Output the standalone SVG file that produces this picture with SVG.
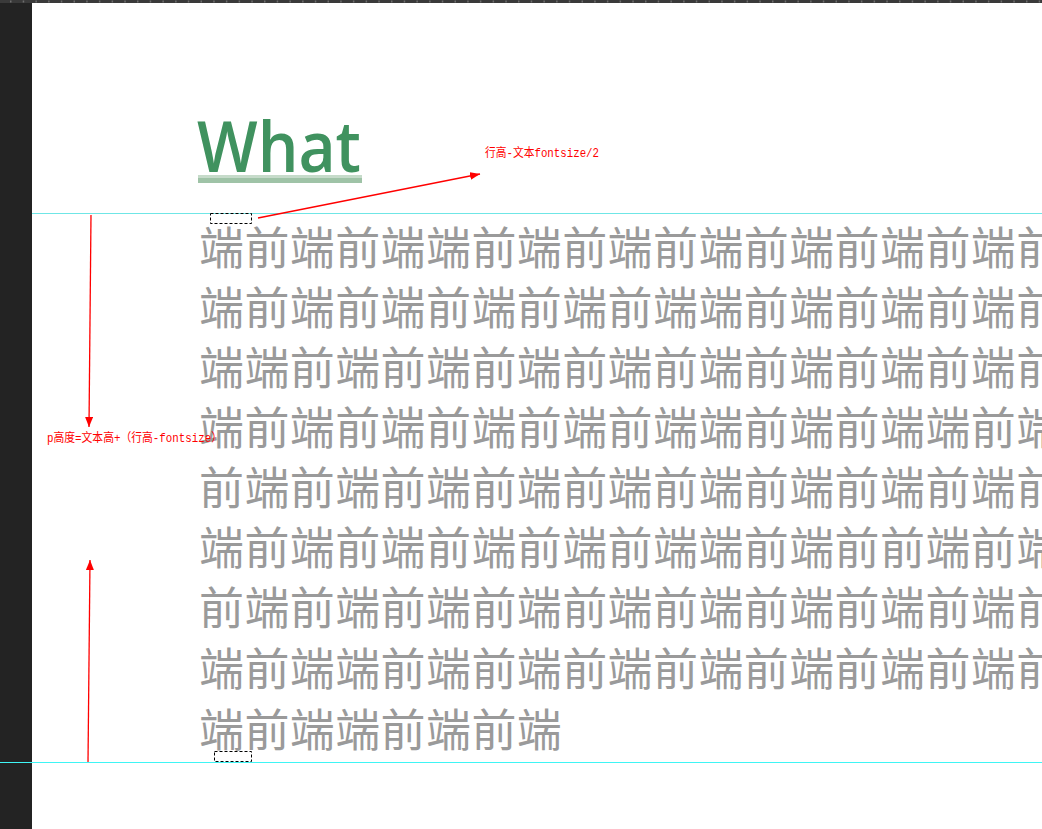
<svg xmlns="http://www.w3.org/2000/svg" width="1042" height="829" viewBox="0 0 1042 829">
<style>
.cjk{font-family:"Noto Sans CJK SC","Noto Sans CJK JP",sans-serif;font-size:45px;fill:#9a9a9a;letter-spacing:0.4px}
.note{font-family:"Liberation Mono","Noto Sans CJK SC",monospace;font-size:12px;fill:#ff0000}
.red{stroke:#ff0000;stroke-width:1.3;fill:none}
.dash{fill:none;stroke:#000;stroke-width:1;stroke-dasharray:3 2}
</style>
<defs>
<marker id="ah" viewBox="0 0 10 8" refX="10" refY="4" markerWidth="10" markerHeight="8" markerUnits="userSpaceOnUse" orient="auto">
<path d="M0,0 L10,4 L0,8 Z" fill="#ff0000"/>
</marker>
</defs>
<rect width="1042" height="829" fill="#ffffff"/>
<g id="chrome">
<rect x="0" y="0" width="1042" height="3" fill="#3a3a3a"/>
<line x1="10" y1="1.5" x2="1042" y2="1.5" stroke="#6e6e6e" stroke-width="2" stroke-dasharray="1.5 11.2"/>
<rect x="0" y="3" width="32" height="826" fill="#232323"/>
</g>
<g id="guides">
<line x1="32" y1="213.5" x2="1042" y2="213.5" stroke="#6fe6e6" stroke-width="1"/>
<line x1="0" y1="762.5" x2="1042" y2="762.5" stroke="#3ff5f5" stroke-width="1"/>
</g>
<g id="title">
<text x="197" y="172" font-family="'Open Sans','Noto Sans',sans-serif" font-weight="600" font-size="70" fill="#40925f" textLength="164" lengthAdjust="spacingAndGlyphs">What</text>
<rect x="198" y="175" width="164" height="3" fill="#c6dbca"/>
<rect x="198" y="178" width="164" height="5" fill="#9fc3a7"/>
</g>
<g id="paragraph">
<text class="cjk" x="199" y="265">端前端前端端前端前端前端前端前端前端前</text>
<text class="cjk" x="199" y="325">端前端前端前端前端前端端前端前端前端前</text>
<text class="cjk" x="199" y="385">端端前端前端前端前端前端前端前端前端前</text>
<text class="cjk" x="199" y="445">端前端前端前端前端前端端前端前端端前端</text>
<text class="cjk" x="199" y="505">前端前端前端前端前端前端前端前端前端前</text>
<text class="cjk" x="199" y="565">端前端前端前端前端前端端前端前前端前端</text>
<text class="cjk" x="199" y="625">前端前端前端前端前端前端前端前端前端前</text>
<text class="cjk" x="199" y="686">端前端端前端前端前端前端前端前端前端前</text>
<text class="cjk" x="199" y="747">端前端端前端前端</text>
</g>
<g id="markers">
<rect class="dash" x="210.5" y="213.5" width="41" height="10"/>
<rect class="dash" x="214.5" y="751.5" width="37" height="10"/>
</g>
<g id="connectors">
<line class="red" x1="258" y1="218" x2="480" y2="174" marker-end="url(#ah)"/>
<line class="red" x1="91" y1="215" x2="89" y2="427" marker-end="url(#ah)"/>
<line class="red" x1="88" y1="762" x2="90" y2="560" marker-end="url(#ah)"/>
</g>
<g id="labels">
<text class="note" x="485" y="157" textLength="114" lengthAdjust="spacingAndGlyphs">行高-文本fontsize/2</text>
<text class="note" x="47" y="442" textLength="175" lengthAdjust="spacingAndGlyphs">p高度=文本高+（行高-fontsize）</text>
</g>
</svg>
